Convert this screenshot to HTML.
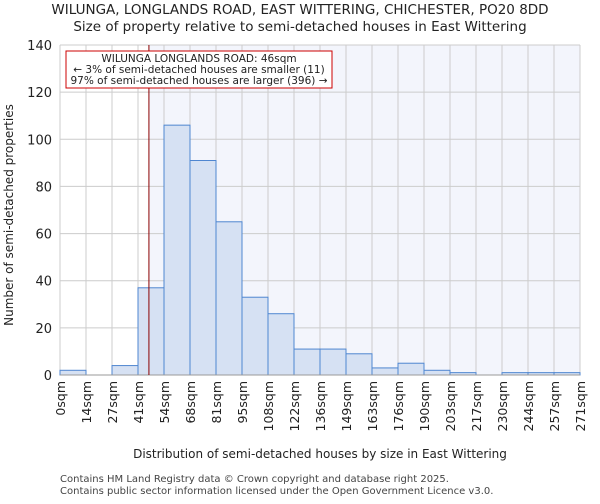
<!DOCTYPE html>
<html><head><meta charset="utf-8"><style>
body{margin:0;background:#fff;font-family:"DejaVu Sans","Liberation Sans",sans-serif;}
</style></head><body>
<svg id="c" width="600" height="500" xmlns="http://www.w3.org/2000/svg" font-family="DejaVu Sans, Liberation Sans, sans-serif">
<text x="300" y="14" text-anchor="middle" font-size="13.5" fill="#222">WILUNGA, LONGLANDS ROAD, EAST WITTERING, CHICHESTER, PO20 8DD</text>
<text x="300" y="31" text-anchor="middle" font-size="13.5" fill="#222">Size of property relative to semi-detached houses in East Wittering</text>
<g id="plot"></g>
<text x="320" y="458" text-anchor="middle" font-size="12" fill="#222">Distribution of semi-detached houses by size in East Wittering</text>
<text transform="translate(13,215) rotate(-90)" text-anchor="middle" font-size="12" fill="#222">Number of semi-detached properties</text>
<text x="60" y="482" font-size="10" fill="#444">Contains HM Land Registry data © Crown copyright and database right 2025.</text>
<text x="60" y="494" font-size="10" fill="#444">Contains public sector information licensed under the Open Government Licence v3.0.</text>
</svg>
<script>
const labels=["0sqm","14sqm","27sqm","41sqm","54sqm","68sqm","81sqm","95sqm","108sqm","122sqm","136sqm","149sqm","163sqm","176sqm","190sqm","203sqm","217sqm","230sqm","244sqm","257sqm","271sqm"];
const counts=[2,0,4,37,106,91,65,33,26,11,11,9,3,5,2,1,0,1,1,1];
const yTicks=[0,20,40,60,80,100,120,140];
const markerBin=3.42;
const NS="http://www.w3.org/2000/svg";
const L=60,R=580,T=45,B=375,yMax=140;
const bw=(R-L)/counts.length;
const x=i=>L+i*bw;
const y=v=>B-v/yMax*(B-T);
const g=document.getElementById('plot');
function mk(t,a){const e=document.createElementNS(NS,t);for(const k in a)e.setAttribute(k,a[k]);g.appendChild(e);return e;}
const mx=x(markerBin);
let e=mk('rect',{x:mx,y:T,width:R-mx,height:B-T,fill:'#f3f5fc'});


yTicks.forEach(v=>{let l=mk('line',{x1:L,x2:R,y1:y(v),y2:y(v),stroke:'#ccc','stroke-width':1});


let t=mk('text',{x:L-8,y:y(v)+5,'text-anchor':'end','font-size':13,fill:'#222'});t.textContent=v;

});
labels.forEach((s,i)=>{let l=mk('line',{x1:x(i),x2:x(i),y1:T,y2:B,stroke:'#ccc','stroke-width':1});


let t=mk('text',{transform:`translate(${x(i)+5},${B+6}) rotate(-90)`,'text-anchor':'end','font-size':12.5,fill:'#222'});t.textContent=s;

});
counts.forEach((v,i)=>{if(v<=0)return;let r=mk('rect',{x:x(i),y:y(v),width:bw,height:B-y(v),fill:'#d6e1f3',stroke:'#4f86d0','stroke-width':1});

});
let ax=mk('line',{x1:L,x2:R,y1:B,y2:B,stroke:'#999'});


let ml=mk('line',{x1:mx,x2:mx,y1:T,y2:B,stroke:'#8b0000','stroke-width':1});


let box=mk('rect',{x:66,y:51,width:266,height:37,fill:'#fff',stroke:'#cc0000','stroke-width':1});


["WILUNGA LONGLANDS ROAD: 46sqm","← 3% of semi-detached houses are smaller (11)","97% of semi-detached houses are larger (396) →"].forEach((s,i)=>{
let t=mk('text',{x:199,y:62+i*11,'text-anchor':'middle','font-size':10.5,fill:'#222'});t.textContent=s;

});
</script>
</body></html>
